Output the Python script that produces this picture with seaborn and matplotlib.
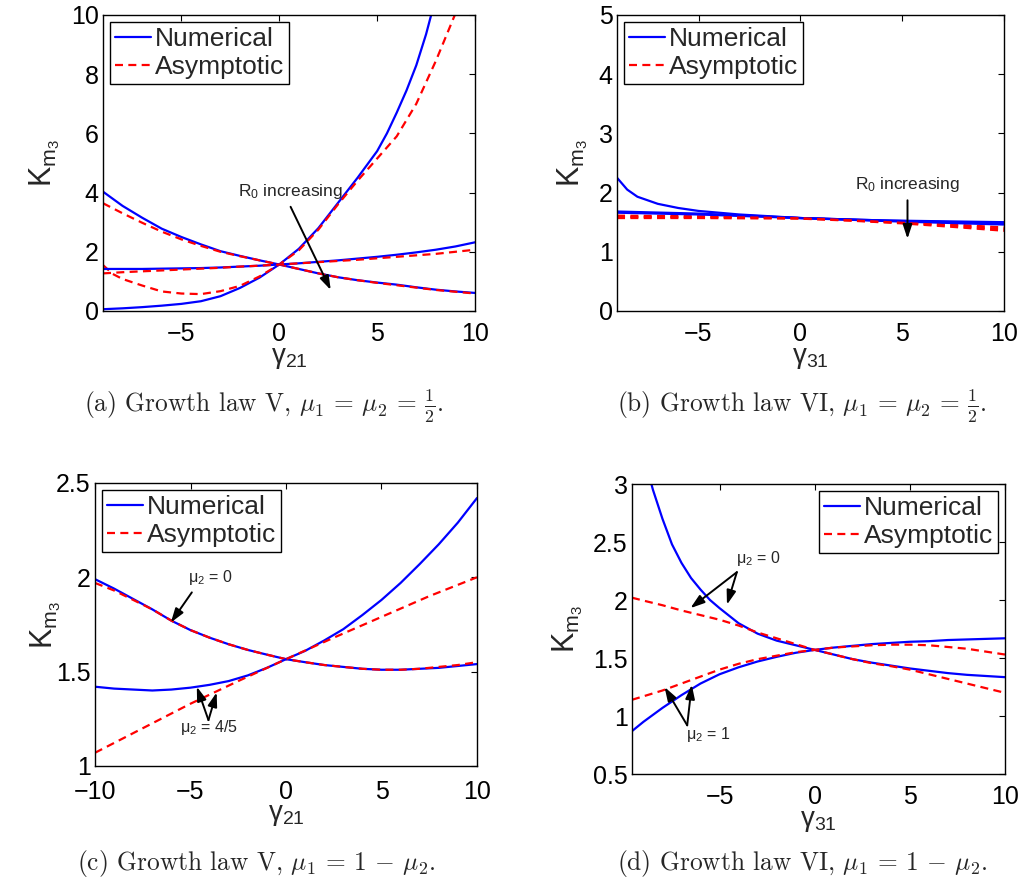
import matplotlib
matplotlib.use('Agg')
import matplotlib.pyplot as plt
import seaborn as sns

# ---------------- data ----------------
# (a) Growth law V, mu1 = mu2 = 1/2
a_x = [-9, -8, -7, -6, -5, -4, -3, -2, -1, 0, 1, 2, 3, 4, 5, 6, 7, 8, 9, 10]
a_x_rise = [-9, -8, -7, -6, -5, -4, -3, -2, -1, 0, 1, 2, 3, 4, 5, 5.5, 6, 6.5,
            7, 7.5, 8]
a_num_rise = [0.06, 0.09, 0.13, 0.18, 0.24, 0.33, 0.50, 0.78, 1.13, 1.57, 2.10, 2.80,
              3.65, 4.50, 5.40, 6.00, 6.70, 7.45, 8.30, 9.35, 10.6]
a_x_asy = [-9, -8.5, -8, -7, -6, -5, -4, -3, -2, -1, 0, 1, 2, 3, 4, 5, 6, 7, 8, 9, 10]
a_asy_rise = [1.55, 1.25, 1.08, 0.86, 0.66, 0.59, 0.57, 0.67, 0.85, 1.17, 1.57, 2.05,
              2.75, 3.60, 4.40, 5.15, 5.90, 7.00, 8.45, 10.05, 11.8]
a_num_dec = [4.03, 3.55, 3.15, 2.78, 2.50, 2.25, 2.02, 1.86, 1.71, 1.57, 1.42, 1.27,
             1.14, 1.04, 0.96, 0.89, 0.80, 0.72, 0.66, 0.61]
a_asy_dec = [3.64, 3.30, 2.98, 2.68, 2.42, 2.20, 2.00, 1.85, 1.71, 1.57, 1.42, 1.27,
             1.14, 1.04, 0.95, 0.87, 0.79, 0.71, 0.65, 0.59]
a_num_flat = [1.42, 1.42, 1.42, 1.43, 1.44, 1.45, 1.47, 1.50, 1.53, 1.57, 1.61, 1.66,
              1.71, 1.77, 1.83, 1.90, 1.98, 2.07, 2.18, 2.32]
a_asy_flat = [1.27, 1.31, 1.34, 1.37, 1.40, 1.43, 1.46, 1.50, 1.53, 1.57, 1.61, 1.65,
              1.69, 1.73, 1.78, 1.83, 1.88, 1.93, 2.00, 2.07]

# (b) Growth law VI, mu1 = mu2 = 1/2
b_x1 = [-9, -8.5, -8, -7, -6, -5, -4, -3, -2, -1, 0, 2, 4, 6, 8, 10]
b_num1 = [2.25, 2.05, 1.93, 1.81, 1.74, 1.69, 1.66, 1.63, 1.61, 1.59, 1.57, 1.55,
          1.53, 1.52, 1.51, 1.50]
b_x = [-9, -5, -2.5, 0, 2.5, 5, 7.5, 10]
b_num2 = [1.68, 1.645, 1.61, 1.57, 1.545, 1.52, 1.50, 1.485]
b_num3 = [1.66, 1.63, 1.60, 1.57, 1.54, 1.51, 1.485, 1.46]
b_asy1 = [1.61, 1.60, 1.59, 1.57, 1.54, 1.50, 1.46, 1.41]
b_asy2 = [1.59, 1.585, 1.58, 1.565, 1.53, 1.49, 1.44, 1.38]
b_asy3 = [1.57, 1.57, 1.565, 1.56, 1.525, 1.48, 1.42, 1.355]

# (c) Growth law V, mu1 = 1 - mu2
c_x = [-10, -9, -8, -7, -6, -5, -4, -3, -2, -1, 0, 1, 2, 3, 4, 5, 6, 7, 8, 9, 10]
c_num0 = [1.99, 1.94, 1.885, 1.83, 1.77, 1.72, 1.68, 1.645, 1.615, 1.59, 1.566, 1.55,
          1.535, 1.525, 1.515, 1.51, 1.51, 1.515, 1.52, 1.53, 1.54]
c_asy0 = [1.97, 1.93, 1.88, 1.83, 1.77, 1.72, 1.68, 1.645, 1.615, 1.59, 1.566, 1.55,
          1.535, 1.525, 1.515, 1.51, 1.51, 1.515, 1.525, 1.535, 1.55]
c_num45 = [1.42, 1.41, 1.405, 1.40, 1.405, 1.415, 1.43, 1.45, 1.48, 1.52, 1.566, 1.61,
           1.665, 1.725, 1.80, 1.88, 1.97, 2.07, 2.175, 2.29, 2.42]
c_xl = [-10, -7.5, -5, -2.5, 0, 2.5, 5, 7.5, 10]
c_asy45 = [1.07, 1.20, 1.33, 1.45, 1.566, 1.68, 1.79, 1.90, 2.00]

# (d) Growth law VI, mu1 = 1 - mu2
d_x = [-9.6, -9, -8, -7, -6, -5, -4, -3, -2, -1, 0, 1, 2, 3, 4, 5, 6, 7, 8, 9, 10]
d_x0 = [-9.6, -9, -8.5, -8, -7.5, -7, -6.5, -6, -5.5, -5, -4, -3, -2, -1, 0, 1, 2, 3,
        4, 5, 6, 7, 8, 9, 10]
d_num0 = [3.70, 3.25, 2.95, 2.70, 2.48, 2.32, 2.19, 2.09, 2.00, 1.93, 1.80, 1.71,
          1.65, 1.61, 1.57, 1.53, 1.49, 1.46, 1.435, 1.41, 1.39, 1.37, 1.355, 1.345,
          1.335]
d_asy0 = [2.02, 1.995, 1.955, 1.91, 1.87, 1.83, 1.78, 1.72, 1.67, 1.62, 1.57, 1.53,
          1.49, 1.455, 1.43, 1.40, 1.36, 1.32, 1.28, 1.24, 1.20]
d_num1 = [0.87, 0.95, 1.07, 1.18, 1.28, 1.36, 1.42, 1.47, 1.51, 1.545, 1.57, 1.59,
          1.605, 1.62, 1.63, 1.64, 1.645, 1.655, 1.66, 1.665, 1.67]
d_asy1 = [1.14, 1.17, 1.22, 1.28, 1.34, 1.40, 1.45, 1.49, 1.52, 1.55, 1.57, 1.59,
          1.60, 1.61, 1.615, 1.615, 1.61, 1.595, 1.58, 1.555, 1.53]

captions = [
    r'(a) Growth law V, $\mu_1$ = $\mu_2$ = $\frac{1}{2}$.',
    r'(b) Growth law VI, $\mu_1$ = $\mu_2$ = $\frac{1}{2}$.',
    r'(c) Growth law V, $\mu_1$ = 1 $-$ $\mu_2$.',
    r'(d) Growth law VI, $\mu_1$ = 1 $-$ $\mu_2$.',
]
xlabels = [r'$\mathrm{\gamma_{21}}$', r'$\mathrm{\gamma_{31}}$',
           r'$\mathrm{\gamma_{21}}$', r'$\mathrm{\gamma_{31}}$']
xticks_top = [-5, 0, 5, 10]
xticks_c = [-10, -5, 0, 5, 10]
yticks_a = [0, 2, 4, 6, 8, 10]
yticks_b = [0, 1, 2, 3, 4, 5]
yticks_c = [1, 1.5, 2, 2.5]
yticks_d = [0.5, 1, 1.5, 2, 2.5, 3]

# ---------------- style ----------------
sns.set_style('white')
plt.rcParams['font.family'] = ['Liberation Sans', 'DejaVu Sans']
plt.rcParams['mathtext.fontset'] = 'custom'
plt.rcParams['mathtext.rm'] = 'Liberation Sans'
plt.rcParams['mathtext.it'] = 'Liberation Sans:italic'
plt.rcParams['mathtext.bf'] = 'Liberation Sans:bold'

BLUE = '#0000ff'
RED = '#ff0000'
LW = 1.6
DASH = (0, (3.6, 2.4))


def fmt(v):
    return ('%g' % v).replace('-', '\u2212')


def curve(ax, x, y, kind, label=None):
    if kind == 'num':
        sns.lineplot(x=x, y=y, ax=ax, color=BLUE, lw=LW, label=label,
                     estimator=None, sort=False)
    else:
        sns.lineplot(x=x, y=y, ax=ax, color=RED, lw=LW, linestyle=DASH,
                     label=label, estimator=None, sort=False)


def style_axes(ax, xlim, ylim, xt, yt, xlabel, legend_loc, ylab_x, xpad=8):
    ax.set_xlim(*xlim)
    ax.set_ylim(*ylim)
    ax.set_xticks(xt, [fmt(v) for v in xt])
    ax.set_yticks(yt, [fmt(v) for v in yt])
    ax.tick_params(direction='in', length=4, width=0.8, top=True, right=True,
                   labelsize=18, colors='black')
    ax.tick_params(axis='x', pad=xpad)
    ax.tick_params(axis='y', pad=3)
    for s in ax.spines.values():
        s.set_visible(True)
        s.set_color('black')
        s.set_linewidth(1.0)
    ax.set_xlabel(xlabel, fontsize=20, labelpad=-1)
    ax.set_ylabel(r'$\mathrm{K_{m_3}}$', fontsize=22)
    ax.yaxis.set_label_coords(ylab_x, 0.5)
    h, l = ax.get_legend_handles_labels()
    leg = ax.legend(h, l, loc=legend_loc, fontsize=19, frameon=True,
                    fancybox=False, framealpha=1, edgecolor='black',
                    borderpad=0.2, labelspacing=0.15, handlelength=1.35,
                    handletextpad=0.15, borderaxespad=0.25)
    leg.get_frame().set_linewidth(1.0)


def arrow(ax, tail, head):
    ax.annotate('', xy=head, xytext=tail,
                arrowprops=dict(arrowstyle='-|>,head_width=0.28,head_length=0.85',
                                color='black', lw=1.4, shrinkA=0, shrinkB=0))


fig = plt.figure(figsize=(10.26, 8.85), dpi=100)
ax_a = fig.add_axes([0.1004, 0.6486, 0.3626, 0.3345])
ax_b = fig.add_axes([0.6014, 0.6486, 0.3772, 0.3345])
ax_c = fig.add_axes([0.0926, 0.1345, 0.3723, 0.3198])
ax_d = fig.add_axes([0.6160, 0.1254, 0.3635, 0.3277])

# (a)
curve(ax_a, a_x_rise, a_num_rise, 'num', 'Numerical')
curve(ax_a, a_x_asy, a_asy_rise, 'asy', 'Asymptotic')
curve(ax_a, a_x, a_num_dec, 'num')
curve(ax_a, a_x, a_asy_dec, 'asy')
curve(ax_a, a_x, a_num_flat, 'num')
curve(ax_a, a_x, a_asy_flat, 'asy')
style_axes(ax_a, (-9, 10), (0, 10), xticks_top, yticks_a, xlabels[0], 'upper left', -0.11)
ax_a.text(0.55, 4.05, r'R$_0$ increasing', fontsize=12.5, ha='center', va='center')
arrow(ax_a, (0.58, 3.52), (2.63, 0.71))

# (b)
curve(ax_b, b_x1, b_num1, 'num', 'Numerical')
curve(ax_b, b_x, b_asy1, 'asy', 'Asymptotic')
curve(ax_b, b_x, b_num2, 'num')
curve(ax_b, b_x, b_num3, 'num')
curve(ax_b, b_x, b_asy2, 'asy')
curve(ax_b, b_x, b_asy3, 'asy')
style_axes(ax_b, (-9, 10), (0, 5), xticks_top, yticks_b, xlabels[1], 'upper left', -0.07)
ax_b.text(5.26, 2.14, r'R$_0$ increasing', fontsize=12.5, ha='center', va='center')
arrow(ax_b, (5.26, 1.87), (5.26, 1.22))

# (c)
curve(ax_c, c_x, c_num0, 'num', 'Numerical')
curve(ax_c, c_x, c_asy0, 'asy', 'Asymptotic')
curve(ax_c, c_x, c_num45, 'num')
curve(ax_c, c_xl, c_asy45, 'asy')
style_axes(ax_c, (-10, 10), (1, 2.5), xticks_c, yticks_c, xlabels[2], 'upper left',
           -0.084, xpad=10)
ax_c.text(-3.98, 2.0, r'$\mathrm{\mu_2}$ = 0', fontsize=11.5, ha='center', va='center')
arrow(ax_c, (-4.93, 1.92), (-6.03, 1.76))
ax_c.text(-4.06, 1.205, r'$\mathrm{\mu_2}$ = 4/5', fontsize=11.5, ha='center', va='center')
arrow(ax_c, (-4.06, 1.243), (-4.67, 1.42))
arrow(ax_c, (-4.06, 1.243), (-3.63, 1.39))

# (d)
curve(ax_d, d_x0, d_num0, 'num', 'Numerical')
curve(ax_d, d_x, d_asy0, 'asy', 'Asymptotic')
curve(ax_d, d_x, d_num1, 'num')
curve(ax_d, d_x, d_asy1, 'asy')
style_axes(ax_d, (-9.6, 10), (0.5, 3), xticks_top, yticks_d, xlabels[3], 'upper right', -0.126)
ax_d.text(-2.98, 2.36, r'$\mathrm{\mu_2}$ = 0', fontsize=11.5, ha='center', va='center')
arrow(ax_d, (-4.09, 2.24), (-6.53, 1.93))
arrow(ax_d, (-4.09, 2.24), (-4.61, 1.96))
ax_d.text(-5.6, 0.84, r'$\mathrm{\mu_2}$ = 1', fontsize=11.5, ha='center', va='center')
arrow(ax_d, (-6.70, 0.92), (-7.89, 1.25))
arrow(ax_d, (-6.70, 0.92), (-6.46, 1.27))

# captions
cap_pos = [(0.257, 0.541), (0.782, 0.541), (0.250, 0.024), (0.782, 0.024)]
for (cx, cy), txt in zip(cap_pos, captions):
    fig.text(cx, cy, txt, fontsize=18.3, ha='center', va='center',
             family='cmr10', math_fontfamily='cm')

fig.savefig('out.png', dpi=100)
